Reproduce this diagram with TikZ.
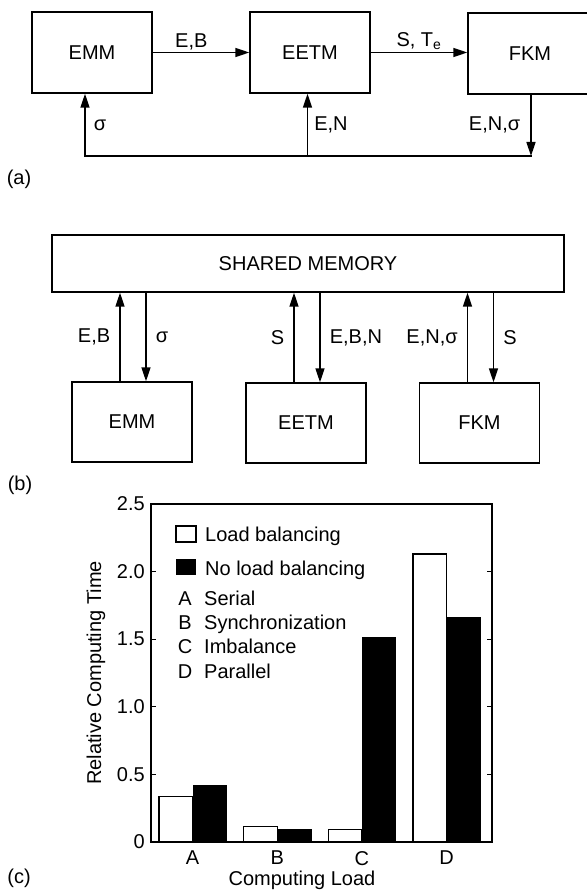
\documentclass[tikz,border=0pt]{standalone}
\usepackage{fontspec}
\setmainfont{Liberation Sans}
\usetikzlibrary{arrows.meta}

\begin{document}
\begin{tikzpicture}[
  x=1pt,
  y=-1pt,
  font=\fontsize{20}{24}\selectfont,
  modulo/.style={draw, line width=1.4pt, inner sep=0pt,
    minimum width=120pt, minimum height=80pt},
  flecha/.style={line width=1.6pt, -{Triangle[length=14pt,width=9pt]}},
  rotulo/.style={inner sep=0pt}
]
\useasboundingbox (0,0) rectangle (586,890);

%--------------------
% (a) Cadena de modulos
%--------------------
\node[modulo, minimum height=81pt] (emmA) at (92,52.5) {EMM};
\node[modulo, minimum height=81pt] (eetmA) at (310,52.5) {EETM};
\node[modulo, minimum height=81pt, minimum width=124pt] (fkmA) at (530,53.5) {FKM};

\draw[flecha] (emmA) -- node[rotulo, pos=0.4, above=2pt] (lblEB) {E,B} (eetmA);
\draw[flecha] (eetmA.east) -- node[rotulo, above=2pt] (lblSTe) {S, T\textsubscript{e}}
  (eetmA.east -| fkmA.west);

% lazo de vuelta
\coordinate (retEMM) at (85,156);
\coordinate (retEETM) at (307.5,156);
\coordinate (retFKM) at (531,156);
\draw[line width=1.6pt, line cap=rect] (retEMM) -- (retFKM);
\draw[flecha] (fkmA.south -| retFKM) -- node[rotulo, left=10pt] (lblENs) {E,N,σ} (retFKM);
\draw[flecha] (retEMM) -- node[rotulo, right=8pt] (lblSig) {σ} (retEMM |- emmA.south);
\draw[flecha] (retEETM) -- node[rotulo, right=6pt] (lblEN) {E,N} (retEETM |- eetmA.south);

\node[rotulo] (etqA) at (19,179) {(a)};

%--------------------
% (b) Memoria compartida
%--------------------
\node[modulo, minimum width=512pt, minimum height=57pt] (memoria) at (308,263.5) {SHARED MEMORY};
\node[modulo] (emmB) at (132,422) {EMM};
\node[modulo] (eetmB) at (306,423) {EETM};
\node[modulo] (fkmB) at (479.5,423) {FKM};

\foreach \m/\sube/\baja in {emmB/{E,B}/{σ}, eetmB/{S}/{E,B,N}, fkmB/{E,N,σ}/{S}} {
  \draw[flecha] ([xshift=-12pt]\m.north) -- node[rotulo, left=9pt] (sube\m) {\sube}
    ([xshift=-12pt]\m.north |- memoria.south);
  \draw[flecha] ([xshift=14pt]\m.north |- memoria.south) -- node[rotulo, right=9pt] (baja\m) {\baja}
    ([xshift=14pt]\m.north);
}

\node[rotulo] (etqB) at (20,485.5) {(b)};

%--------------------
% (c) Tiempo de computo relativo
%--------------------
\begin{scope}[shift={(151,842)}, y=135.2pt]
  % barras
  \foreach \blanca/\negra/\letra [count=\i from 0] in {0.335/0.42/A, 0.113/0.098/B, 0.094/1.516/C, 2.13/1.664/D} {
    \filldraw[fill=white, line width=1.4pt] ({8+84.7*\i},0) rectangle ({41.5+84.7*\i},\blanca);
    \fill ({41.5+84.7*\i},0) rectangle ({76+84.7*\i},\negra);
    \node[rotulo, below=9pt] (bar\letra) at ({41.5+84.7*\i},0) {\letra};
  }
  % marco y marcas
  \draw[line width=1.4pt] (0,0) rectangle (341,2.5);
  \foreach \v/\t [count=\k] in {0/0, 0.5/0.5, 1/1.0, 1.5/1.5, 2/2.0, 2.5/2.5} {
    \node[rotulo, left=6pt] (tk\k) at (0,\v) {\t};
  }
  \foreach \v in {0.5,1,1.5,2} {
    \draw[line width=1.2pt] (0,\v) -- (5,\v);
    \draw[line width=1.2pt] (341,\v) -- (336,\v);
  }
\end{scope}

% leyenda
\filldraw[fill=white, line width=1.2pt] (176,526) rectangle (196,542);
\fill (176,559) rectangle (196,575);
\node[rotulo, anchor=base west] (leyLB) at (205,541) {Load balancing};
\node[rotulo, anchor=base west] (leyNLB) at (205,575) {No load balancing};
\foreach \l/\txt/\yy in {A/Serial/605, B/Synchronization/629.5, C/Imbalance/653.5, D/Parallel/678} {
  \node[rotulo, anchor=base] (let\l) at (185,\yy) {\l};
  \node[rotulo, anchor=base west] (ley\l) at (204,\yy) {\txt};
}

% ejes
\node[rotulo, anchor=base] (ejeX) at (302,885.5) {Computing Load};
\node[rotulo, rotate=90] (ejeY) at (96,673) {Relative Computing Time};

\node[rotulo] (etqC) at (19,878.5) {(c)};

\end{tikzpicture}
\end{document}
